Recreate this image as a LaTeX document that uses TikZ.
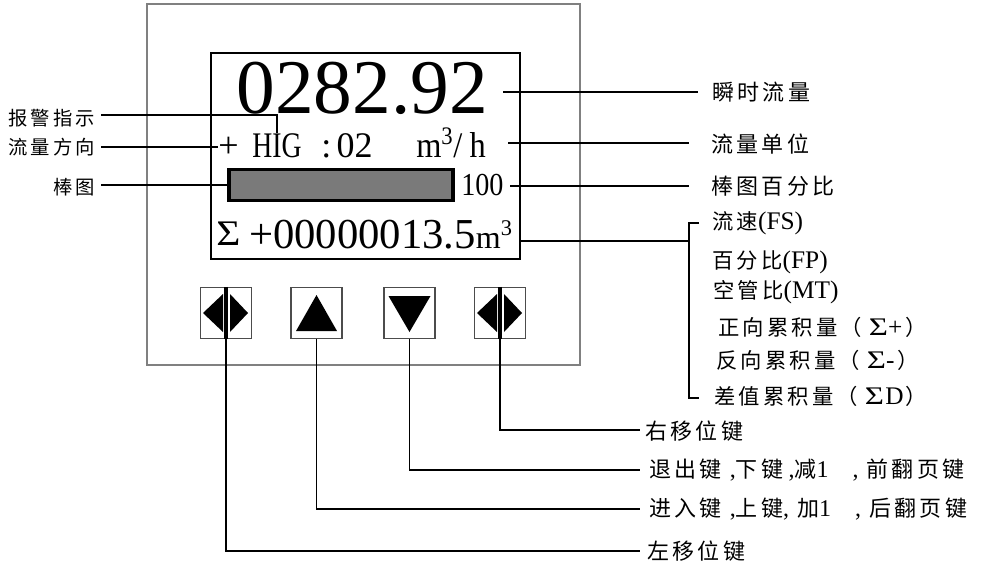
\documentclass[tikz,border=0pt]{standalone}
\usepackage{fontspec}
\usepackage{graphicx}
\setmainfont{Liberation Serif}
\newfontfamily\cjk[LetterSpace=15]{Noto Sans CJK SC}
\usetikzlibrary{calc}

\tikzset{
  lead/.style={line width=1.1pt},
  lbl/.style={inner sep=0pt,anchor=west,font=\cjk\fontsize{16.5}{19}\selectfont},
  lbls/.style={inner sep=0pt,anchor=east,font=\cjk\fontsize{14.5}{17}\selectfont},
  lcd/.style={inner sep=0pt,anchor=base west},
  key/.style={draw=black!70,line width=1.2pt,minimum size=38pt,inner sep=0pt}
}
\newcommand\lt{\rmfamily\fontsize{18}{20}\selectfont}
\newcommand\sg{\rmfamily\fontsize{19}{20}\selectfont\hspace{5pt}\scalebox{1.3}[1]{Σ}}

\begin{document}
\begin{tikzpicture}[x=0.75pt,y=-0.75pt]
\useasboundingbox(0,0)rectangle(982,562);
\draw[black!50,line width=1pt](147,4)rectangle(580,365);
\draw[line width=1.1pt](211,53)rectangle(520,259);

\node[lcd,anchor=base,font=\fontsize{58}{62}\selectfont](rate)at(362,113){0282.92};
\node[lcd,font=\fontsize{27}{30}\selectfont](dir)at(218,157){+};
\node[lcd,font=\fontsize{27}{30}\selectfont](alm)at(252,157){\scalebox{0.77}[1]{HIG}};
\node[lcd,font=\fontsize{27}{30}\selectfont](code)at(321,157){:\hspace{4pt}02};
\node[lcd,font=\fontsize{27}{30}\selectfont](unit)at(416,157){\scalebox{0.9}[1]{m\textsuperscript{3}/\hspace{6pt}h}};
\node[draw,line width=2.6pt,fill=black!52,minimum width=168pt,minimum height=23pt,inner sep=0pt](bar)at(341,185){};
\node[lcd,font=\fontsize{24}{26}\selectfont](pct)at(461,195){\scalebox{0.88}[1]{100}};
\node[lcd,font=\fontsize{27}{30}\selectfont](sig)at(216,245){\scalebox{1.15}[1]{Σ}};
\node[lcd,font=\fontsize{32}{34}\selectfont](tot)at(249,248){+00000013.5{\fontsize{24}{26}\selectfont m\textsuperscript{3}}};

\node[key](k1)at(226,313){};
\node[key](k2)at(316.5,313){};
\node[key](k3)at(409.5,313){};
\node[key](k4)at(500,313){};
\foreach \k in {k1,k4}{
  \fill($(\k)+(-23,0)$)--($(\k)+(-3,-19)$)--($(\k)+(-3,19)$)--cycle;
  \fill($(\k)+(22,0)$)--($(\k)+(4,-19)$)--($(\k)+(4,19)$)--cycle;
  \draw[line width=2.4pt](\k.north)--(\k.south);
}
\fill($(k2)+(0,-18)$)--($(k2)+(-20.5,18)$)--($(k2)+(20.5,18)$)--cycle;
\fill($(k3)+(0,19)$)--($(k3)+(-21,-17)$)--($(k3)+(21,-17)$)--cycle;

\coordinate(a1)at(101,115);
\coordinate(d1)at(101,147);
\coordinate(b1)at(101,185);
\draw[lead](a1)-|(alm.north);
\draw[lead](d1)--(d1-|dir.west);
\draw[lead](b1)--(bar.west);
\node[lbls](alarm)at(95,118){报警指示};
\node[lbls](flowdir)at(95,147){流量方向};
\node[lbls](bargraph)at(95,187){棒图};

\coordinate(r0)at(503,92);  \coordinate(r1)at(698,92);
\coordinate(u0)at(508,143); \coordinate(u1)at(689,143);
\coordinate(p0)at(510,186); \coordinate(p1)at(689,186);
\coordinate(s0)at(521,241); \coordinate(s1)at(689,241);
\coordinate(t0)at(699,223); \coordinate(t1)at(699,398);
\draw[lead](r0)--(r1);
\draw[lead](u0)--(u1);
\draw[lead](p0)--(p1);
\draw[lead](s0)--(s1);
\draw[lead](t0)-|(s1)|-(t1);
\node[lbl](inst)at(712,92){瞬时流量};
\node[lbl](unitlbl)at(711,144){流量单位};
\node[lbl](pctlbl)at(711,186){棒图百分比};

\node[lbl,font=\cjk\fontsize{16}{18}\selectfont](m1)at(712,223){流速{\rmfamily\fontsize{19}{20}\selectfont(FS)}};
\node[lbl,font=\cjk\fontsize{16}{18}\selectfont](m2)at(712,262){百分比{\rmfamily\fontsize{19}{20}\selectfont(FP)}};
\node[lbl,font=\cjk\fontsize{16}{18}\selectfont](m3)at(713,292){空管比{\rmfamily\fontsize{19}{20}\selectfont(MT)}};
\node[lbl,font=\cjk\fontsize{16}{18}\selectfont](m4)at(718,327){正向累积量（{\sg+\hspace{2pt}}）};
\node[lbl,font=\cjk\fontsize{16}{18}\selectfont](m5)at(716,360){反向累积量（{\sg-\hspace{2pt}}）};
\node[lbl,font=\cjk\fontsize{16}{18}\selectfont](m6)at(714,396){差值累积量（{\sg\hspace{1pt}D\hspace{1pt}}）};

\coordinate(e4)at(640,430);
\coordinate(e3)at(640,470);
\coordinate(e2)at(640,509);
\coordinate(e1)at(640,551);
\draw[lead](k4.south)|-(e4);
\draw[lead](k3.south)|-(e3);
\draw[lead](k2.south)|-(e2);
\draw[lead](k1.south)|-(e1);
\node[lbl](rkey)at(645,431){右移位键};
\node[lbl](dkey)at(649,470){退出键{\lt\hspace{6pt},}下键{\lt\hspace{4pt},}减{\lt 1\hspace{18pt},\hspace{6pt}}前翻页键};
\node[lbl](ukey)at(649,509){进入键{\lt\hspace{6pt},}上键{\lt ,\hspace{6pt}}加{\lt 1\hspace{18pt},\hspace{6pt}}后翻页键};
\node[lbl](lkey)at(647,551){左移位键};
\end{tikzpicture}
\end{document}
